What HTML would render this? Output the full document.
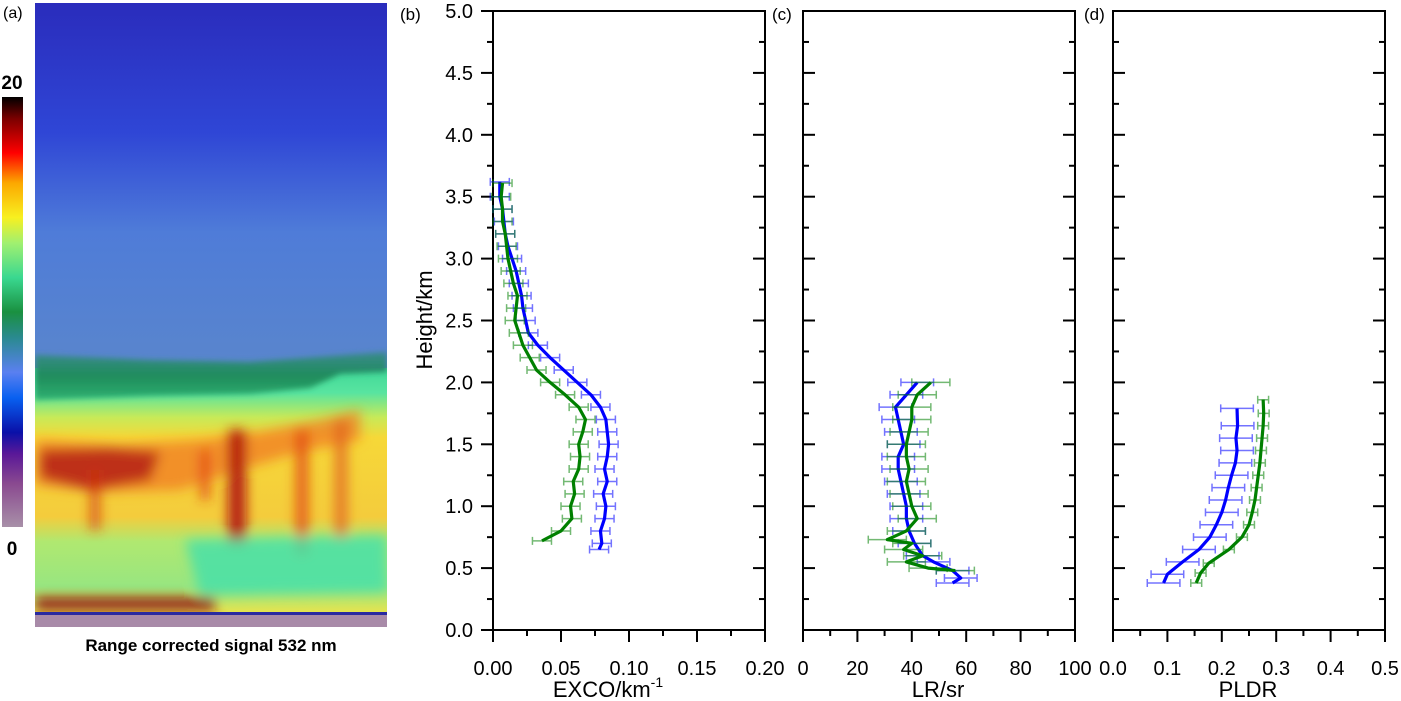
<!DOCTYPE html>
<html><head><meta charset="utf-8">
<style>
html,body{margin:0;padding:0;background:#fff;}
body{width:1401px;height:701px;overflow:hidden;position:relative;font-family:"Liberation Sans",Arial,sans-serif;}
svg{position:absolute;left:0;top:0;}
</style></head>
<body>
<svg id="fig" width="1401" height="701" viewBox="0 0 1401 701" xmlns="http://www.w3.org/2000/svg">
<defs>
  <linearGradient id="sky" x1="0" y1="0" x2="0" y2="1">
    <stop offset="0" stop-color="#2a2cbc"/>
    <stop offset="0.35" stop-color="#2f46d6"/>
    <stop offset="0.62" stop-color="#4f7cd8"/>
    <stop offset="1" stop-color="#5a86cc"/>
  </linearGradient>
  <linearGradient id="pbl" x1="0" y1="0" x2="0" y2="1">
    <stop offset="0" stop-color="#3a8a8c"/>
    <stop offset="0.5" stop-color="#1f8c5c"/>
    <stop offset="1" stop-color="#2fb070"/>
  </linearGradient>
  <linearGradient id="aer" x1="0" y1="0" x2="0" y2="1">
    <stop offset="0" stop-color="#40d898"/>
    <stop offset="0.1" stop-color="#58e4a0"/>
    <stop offset="0.2" stop-color="#c8ea58"/>
    <stop offset="0.28" stop-color="#f6d838"/>
    <stop offset="0.6" stop-color="#f4cc3c"/>
    <stop offset="0.7" stop-color="#b0e870"/>
    <stop offset="0.88" stop-color="#98e680"/>
    <stop offset="1" stop-color="#f0e448"/>
  </linearGradient>
  <linearGradient id="cbar" x1="0" y1="1" x2="0" y2="0">
    <stop offset="0" stop-color="#a890a8"/>
    <stop offset="0.1" stop-color="#8a4a90"/>
    <stop offset="0.17" stop-color="#5a1898"/>
    <stop offset="0.22" stop-color="#0a10a8"/>
    <stop offset="0.3" stop-color="#0860f0"/>
    <stop offset="0.36" stop-color="#5a80f0"/>
    <stop offset="0.44" stop-color="#2a8a90"/>
    <stop offset="0.5" stop-color="#1a9040"/>
    <stop offset="0.58" stop-color="#3ad890"/>
    <stop offset="0.66" stop-color="#a0f070"/>
    <stop offset="0.72" stop-color="#f8f020"/>
    <stop offset="0.8" stop-color="#fca800"/>
    <stop offset="0.87" stop-color="#ff0000"/>
    <stop offset="0.95" stop-color="#7a0000"/>
    <stop offset="1" stop-color="#000000"/>
  </linearGradient>
  <filter id="blur4" x="-50%" y="-50%" width="200%" height="200%"><feGaussianBlur stdDeviation="6"/></filter>
  <filter id="blur2" x="-50%" y="-50%" width="200%" height="200%"><feGaussianBlur stdDeviation="3"/></filter>
  <clipPath id="imgclip"><rect x="35" y="3" width="352" height="624"/></clipPath>
</defs>

<!-- Panel (a) -->
<text x="3" y="18" font-size="16" fill="#000">(a)</text>
<g clip-path="url(#imgclip)">
  <rect x="35" y="3" width="352" height="370" fill="url(#sky)"/>
  <rect x="35" y="368" width="352" height="248" fill="url(#aer)"/>
  <path d="M35,355 L150,360 L250,362 L387,352 L387,372 L340,374 L310,388 L250,394 L150,396 L35,400 Z" fill="url(#pbl)" filter="url(#blur2)"/>
  <g filter="url(#blur4)">
    <path d="M35,440 L120,445 L200,440 L260,432 L320,420 L360,410 L360,440 L300,452 L240,470 L180,490 L100,492 L35,485 Z" fill="#f07a20" opacity="0.75"/>
    <path d="M40,450 L110,448 L160,452 L150,480 L90,490 L40,478 Z" fill="#b01818" opacity="0.8"/>
    <rect x="228" y="430" width="18" height="115" fill="#b01010" opacity="0.9"/>
    <rect x="296" y="430" width="12" height="125" fill="#e04010" opacity="0.8"/>
    <rect x="335" y="420" width="12" height="120" fill="#e06020" opacity="0.8"/>
    <rect x="90" y="470" width="10" height="60" fill="#d03010" opacity="0.7"/>
    <rect x="200" y="450" width="10" height="50" fill="#e03010" opacity="0.7"/>
    <path d="M185,540 L387,535 L387,592 L200,595 Z" fill="#48e0a8" opacity="0.85"/>
    <rect x="35" y="598" width="180" height="12" fill="#901010"/>
  </g>
  <rect x="35" y="612" width="352" height="3" fill="#2a2aa0"/>
  <rect x="35" y="615" width="352" height="12" fill="#a88aa8"/>
</g>
<rect x="2" y="97" width="21" height="430" fill="url(#cbar)"/>
<text x="12" y="89" font-size="19" font-weight="bold" text-anchor="middle">20</text>
<text x="12" y="555" font-size="19" font-weight="bold" text-anchor="middle">0</text>
<text x="211" y="651" font-size="17" font-weight="bold" text-anchor="middle">Range corrected signal 532 nm</text>

<g id="charts"></g>
</svg>
<script>
// ---- data ----
const yTicks = ["0.0","0.5","1.0","1.5","2.0","2.5","3.0","3.5","4.0","4.5","5.0"];
const excoTicks = ["0.00","0.05","0.10","0.15","0.20"];
const lrTicks = ["0","20","40","60","80","100"];
const pldrTicks = ["0.0","0.1","0.2","0.3","0.4","0.5"];

const excoBlueH = [0.65,0.7,0.8,0.9,1.0,1.1,1.2,1.3,1.4,1.5,1.6,1.7,1.8,1.9,2.0,2.1,2.2,2.3,2.4,2.5,2.6,2.7,2.8,2.9,3.0,3.1,3.2,3.3,3.4,3.5,3.62];
const excoBlue = [0.078,0.080,0.079,0.082,0.083,0.081,0.084,0.082,0.084,0.085,0.084,0.083,0.079,0.072,0.062,0.052,0.042,0.033,0.026,0.024,0.022,0.021,0.019,0.017,0.014,0.011,0.009,0.008,0.007,0.005,0.005];
const excoGreenH = [0.72,0.8,0.9,1.0,1.1,1.2,1.3,1.4,1.5,1.6,1.7,1.8,1.9,2.0,2.1,2.2,2.3,2.4,2.5,2.6,2.7,2.8,2.9,3.0,3.1,3.2,3.3,3.4,3.5,3.61];
const excoGreen = [0.036,0.050,0.058,0.057,0.060,0.059,0.063,0.064,0.063,0.066,0.068,0.063,0.053,0.042,0.032,0.027,0.022,0.019,0.016,0.017,0.018,0.015,0.013,0.011,0.010,0.009,0.007,0.007,0.006,0.007];

const lrBlueH = [0.38,0.42,0.48,0.55,0.6,0.7,0.8,0.9,1.0,1.1,1.2,1.3,1.4,1.5,1.6,1.7,1.8,1.9,2.0];
const lrBlue = [55,58,55,48,44,41,39,38,38,37,36,35,35,37,36,35,34,38,42];
const lrGreenH = [0.48,0.5,0.55,0.6,0.65,0.7,0.73,0.8,0.9,1.0,1.1,1.2,1.3,1.4,1.5,1.6,1.7,1.8,1.9,2.0];
const lrGreen = [56,46,38,44,37,40,31,38,42,40,39,38,39,38,38,39,40,40,42,47];

const pldrBlueH = [0.38,0.45,0.55,0.65,0.75,0.85,0.95,1.05,1.15,1.25,1.35,1.45,1.55,1.65,1.79];
const pldrBlue = [0.093,0.100,0.128,0.158,0.178,0.190,0.200,0.207,0.212,0.218,0.225,0.228,0.226,0.229,0.228];
const pldrGreenH = [0.38,0.46,0.54,0.65,0.75,0.85,0.95,1.05,1.15,1.25,1.35,1.45,1.55,1.65,1.75,1.86];
const pldrGreen = [0.153,0.161,0.176,0.213,0.237,0.250,0.256,0.261,0.264,0.267,0.270,0.272,0.274,0.276,0.277,0.276];

const NS = "http://www.w3.org/2000/svg";
const root = document.getElementById('charts');
const TOP = 11, BOT = 630;
function yScale(h){ return BOT - (h/5)*(BOT-TOP); }
function mk(tag, attrs, parent){
  const e = document.createElementNS(NS, tag);
  for (const k in attrs) e.setAttribute(k, attrs[k]);
  (parent||root).appendChild(e);
  return e;
}

function panel(cfg){
  const g = mk('g', {});
  
  
  const L = cfg.left, R = cfg.right;
  const xs = v => L + (v - cfg.min)/(cfg.max - cfg.min)*(R - L);
  const fr = mk('rect', {x:L, y:TOP, width:R-L, height:BOT-TOP, fill:'none', stroke:'#000', 'stroke-width':2}, g);
  
  
  for (let i=0;i<=20;i++){
    const h = i*0.25, y = yScale(h), major = (i%2===0);
    const len = major ? 12 : 6;
    if (cfg.yLabels){
      mk('line', {x1:L-len, x2:L, y1:y, y2:y, stroke:'#000','stroke-width':2}, g);
    } else {
      mk('line', {x1:L, x2:L+len, y1:y, y2:y, stroke:'#000','stroke-width':2}, g);
    }
    mk('line', {x1:R-len, x2:R, y1:y, y2:y, stroke:'#000','stroke-width':2}, g);
    if (cfg.yLabels && major){
      const t = mk('text', {x:L-20, y:y+7, 'font-size':20, 'text-anchor':'end'}, g);
      t.textContent = yTicks[i/2];
      
      
    }
  }
  const n = cfg.ticks.length - 1;
  for (let i=0;i<=2*n;i++){
    const v = cfg.min + (cfg.max-cfg.min)*i/(2*n), x = xs(v), major = (i%2===0);
    mk('line', {x1:x, x2:x, y1:BOT, y2:BOT+(major?12:6), stroke:'#000','stroke-width':2}, g);
    if (major){
      const t = mk('text', {x:x, y:675, 'font-size':20, 'text-anchor':'middle'}, g);
      t.textContent = cfg.ticks[i/2];
      
      
    }
  }
  cfg.series.forEach(s=>{
    const sg = mk('g', {}, g);
    
    
    for (let i=0;i<s.h.length;i++){
      const y = yScale(s.h[i]);
      const x1 = xs(s.v[i]-s.err), x2 = xs(s.v[i]+s.err);
      const eb = mk('path', {d:`M${x1},${y}H${x2}M${x1},${y-4}V${y+4}M${x2},${y-4}V${y+4}`, stroke:s.color, 'stroke-width':1.5, 'stroke-opacity':0.55, fill:'none'}, sg);
      
      
    }
    const pts = s.h.map((h,i)=> xs(s.v[i]) + ',' + yScale(h)).join(' ');
    const pl = mk('polyline', {points:pts, fill:'none', stroke:s.color, 'stroke-width':3.2, 'stroke-linejoin':'round'}, sg);
    
    
  });
  const pl = mk('text', {x:cfg.labelX, y:20, 'font-size':17}, g);
  pl.textContent = cfg.label;
  
  
  const at = mk('text', {x:cfg.titleX, y:697, 'font-size':22, 'text-anchor':'middle'}, g);
  
  
  at.textContent = cfg.title;
  if (cfg.sup){
    const ts = mk('tspan', {'font-size':14, dy:-10}, at);
    ts.textContent = cfg.sup;
  }
}

panel({name:'panel-b-exco', left:493, right:765, min:0, max:0.2, ticks:excoTicks, yLabels:true,
  label:'(b)', labelX:400, title:'EXCO/km', sup:'-1', titleX:608,
  series:[
    {name:'exco-blue', h:excoBlueH, v:excoBlue, err:0.007, color:'#0000ff'},
    {name:'exco-green', h:excoGreenH, v:excoGreen, err:0.007, color:'#008000'}
  ]});
panel({name:'panel-c-lr', left:803, right:1075, min:0, max:100, ticks:lrTicks, yLabels:false,
  label:'(c)', labelX:772, title:'LR/sr', titleX:938,
  series:[
    {name:'lr-blue', h:lrBlueH, v:lrBlue, err:6, color:'#0000ff'},
    {name:'lr-green', h:lrGreenH, v:lrGreen, err:7, color:'#008000'}
  ]});
panel({name:'panel-d-pldr', left:1113, right:1385, min:0, max:0.5, ticks:pldrTicks, yLabels:false,
  label:'(d)', labelX:1084, title:'PLDR', titleX:1248,
  series:[
    {name:'pldr-blue', h:pldrBlueH, v:pldrBlue, err:0.03, color:'#0000ff'},
    {name:'pldr-green', h:pldrGreenH, v:pldrGreen, err:0.01, color:'#008000'}
  ]});

const yt = mk('text', {x:0, y:0, 'font-size':22, 'text-anchor':'middle', transform:'translate(432,320) rotate(-90)'});
yt.textContent = 'Height/km';


</script>
</body></html>
